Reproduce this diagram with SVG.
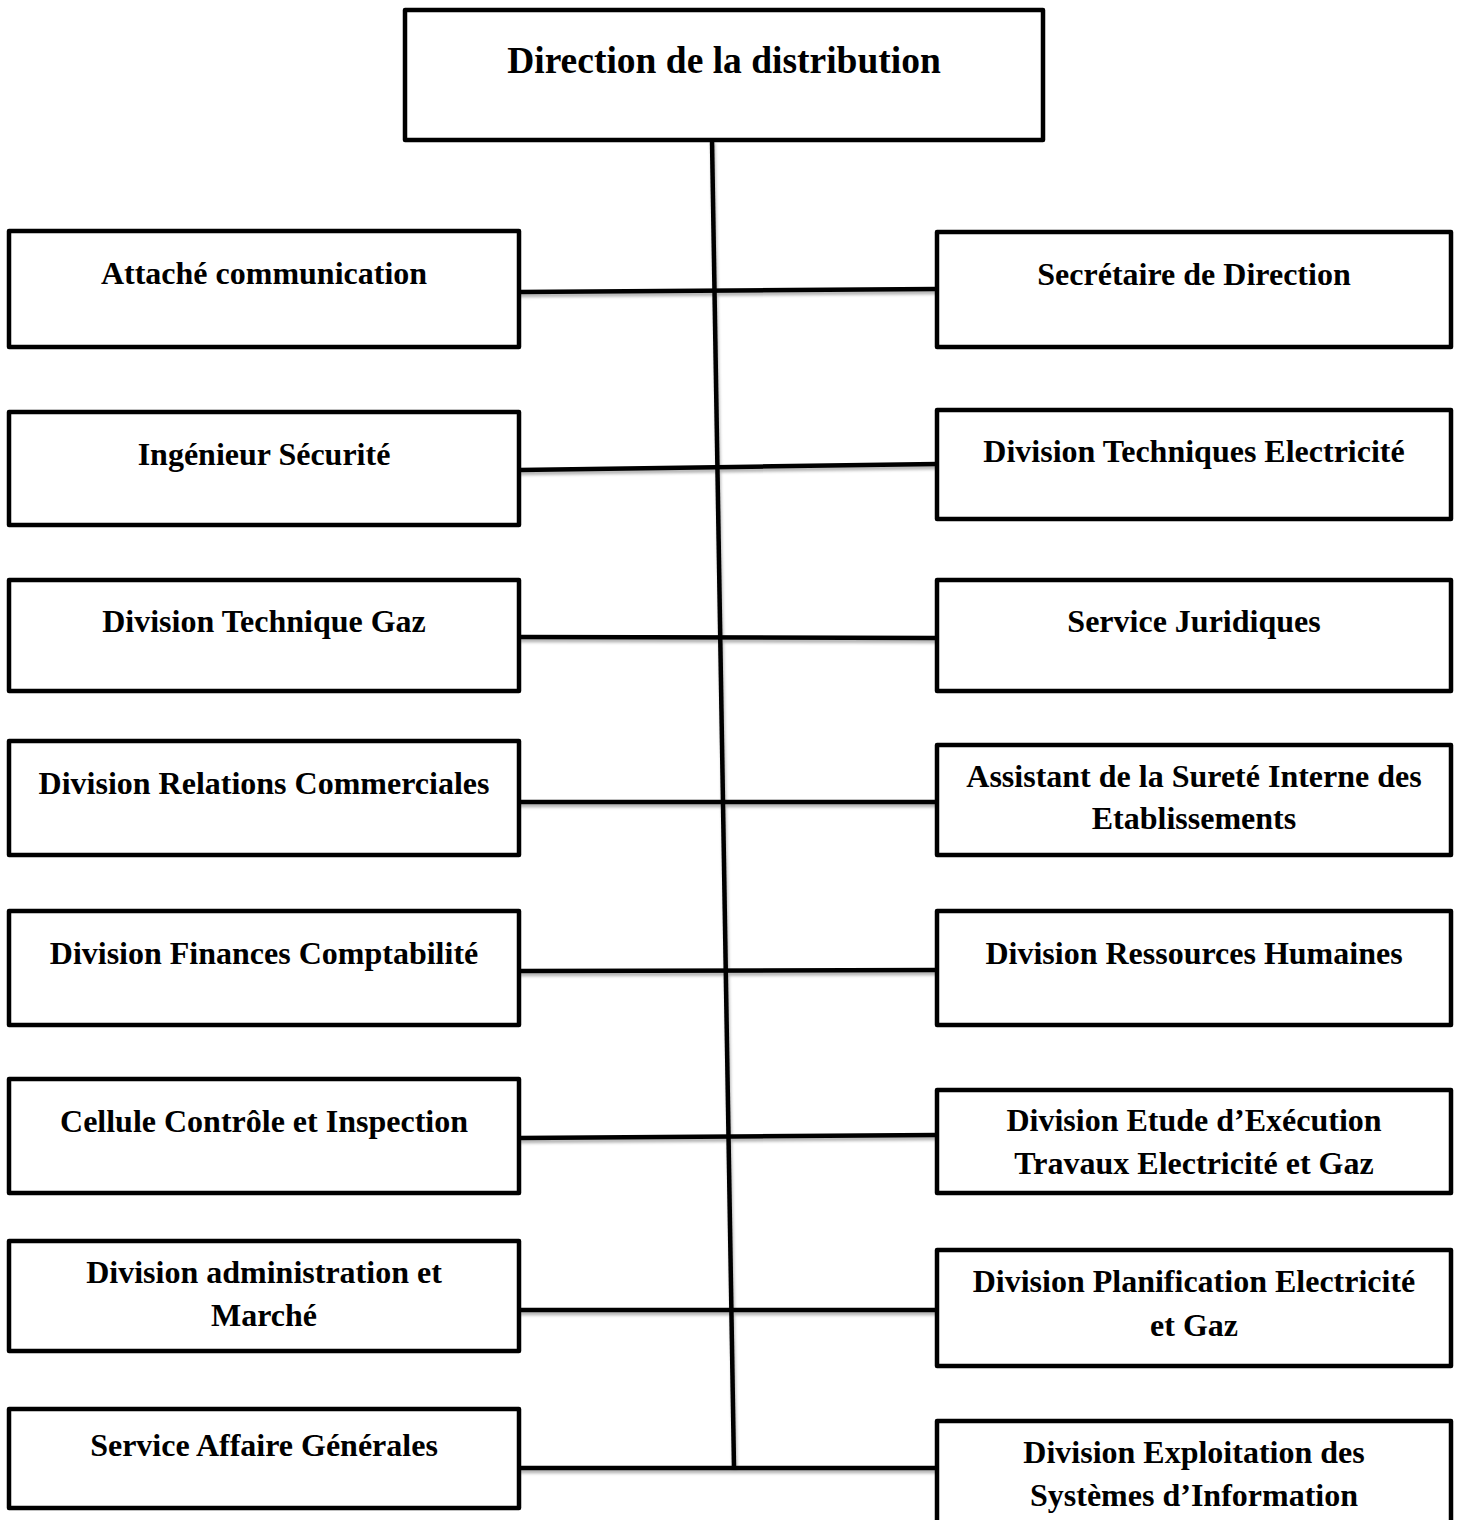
<svg xmlns="http://www.w3.org/2000/svg" width="1459" height="1520" viewBox="0 0 1459 1520">
  <style>
    .box { fill: #ffffff; stroke: #000000; stroke-width: 4.5; stroke-linejoin: round; }
    .lbl { font-family: "Liberation Serif", "Times New Roman", serif; font-weight: bold; font-size: 32px; fill: #000000; text-anchor: middle; }
    .title { font-size: 37.5px; }
    .conn { fill: none; stroke: #000000; stroke-width: 4.5; stroke-linecap: butt; }
  </style>
  <defs>
    <filter id="soft" x="-5%" y="-5%" width="110%" height="120%">
      <feDropShadow dx="1" dy="3" stdDeviation="1.5" flood-color="#000000" flood-opacity="0.3"/>
    </filter>
  </defs>
  <rect width="1459" height="1520" fill="#ffffff"/>

  <!-- connectors: trunk and branches -->
  <g id="connectors" class="conn" filter="url(#soft)">
    <line x1="712" y1="140" x2="734" y2="1468"/>
    <line x1="519" y1="292" x2="937" y2="289"/>
    <line x1="519" y1="470" x2="937" y2="464"/>
    <line x1="519" y1="637" x2="937" y2="638"/>
    <line x1="519" y1="802" x2="937" y2="802"/>
    <line x1="519" y1="971" x2="937" y2="970"/>
    <line x1="519" y1="1138" x2="937" y2="1135"/>
    <line x1="519" y1="1310" x2="937" y2="1310"/>
    <line x1="519" y1="1468" x2="937" y2="1468"/>
  </g>

  <g id="direction">
    <rect class="box" x="405" y="10" width="638" height="130"/>
    <text class="lbl title" x="724" y="73">Direction de la distribution</text>
  </g>

  <!-- left column -->
  <g id="attache-communication">
    <rect class="box" x="9" y="231" width="510" height="116"/>
    <text class="lbl" x="264" y="284">Attaché communication</text>
  </g>
  <g id="ingenieur-securite">
    <rect class="box" x="9" y="412" width="510" height="113"/>
    <text class="lbl" x="264" y="465">Ingénieur Sécurité</text>
  </g>
  <g id="division-technique-gaz">
    <rect class="box" x="9" y="580" width="510" height="111"/>
    <text class="lbl" x="264" y="632">Division Technique Gaz</text>
  </g>
  <g id="division-relations-commerciales">
    <rect class="box" x="9" y="741" width="510" height="114"/>
    <text class="lbl" x="264" y="794">Division Relations Commerciales</text>
  </g>
  <g id="division-finances-comptabilite">
    <rect class="box" x="9" y="911" width="510" height="114"/>
    <text class="lbl" x="264" y="964">Division Finances Comptabilité</text>
  </g>
  <g id="cellule-controle-inspection">
    <rect class="box" x="9" y="1079" width="510" height="114"/>
    <text class="lbl" x="264" y="1132">Cellule Contrôle et Inspection</text>
  </g>
  <g id="division-administration-marche">
    <rect class="box" x="9" y="1241" width="510" height="110"/>
    <text class="lbl" x="264" y="1283">Division administration et</text>
    <text class="lbl" x="264" y="1326">Marché</text>
  </g>
  <g id="service-affaire-generales">
    <rect class="box" x="9" y="1409" width="510" height="99"/>
    <text class="lbl" x="264" y="1456">Service Affaire Générales</text>
  </g>

  <!-- right column -->
  <g id="secretaire-direction">
    <rect class="box" x="937" y="232" width="514" height="115"/>
    <text class="lbl" x="1194" y="285">Secrétaire de Direction</text>
  </g>
  <g id="division-techniques-electricite">
    <rect class="box" x="937" y="410" width="514" height="109"/>
    <text class="lbl" x="1194" y="462">Division Techniques Electricité</text>
  </g>
  <g id="service-juridiques">
    <rect class="box" x="937" y="580" width="514" height="111"/>
    <text class="lbl" x="1194" y="632">Service Juridiques</text>
  </g>
  <g id="assistant-surete">
    <rect class="box" x="937" y="745" width="514" height="110"/>
    <text class="lbl" x="1194" y="787">Assistant de la Sureté Interne des</text>
    <text class="lbl" x="1194" y="829">Etablissements</text>
  </g>
  <g id="division-ressources-humaines">
    <rect class="box" x="937" y="911" width="514" height="114"/>
    <text class="lbl" x="1194" y="964">Division Ressources Humaines</text>
  </g>
  <g id="division-etude-execution">
    <rect class="box" x="937" y="1090" width="514" height="103"/>
    <text class="lbl" x="1194" y="1131">Division Etude d’Exécution</text>
    <text class="lbl" x="1194" y="1174">Travaux Electricité et Gaz</text>
  </g>
  <g id="division-planification">
    <rect class="box" x="937" y="1250" width="514" height="116"/>
    <text class="lbl" x="1194" y="1292">Division Planification Electricité</text>
    <text class="lbl" x="1194" y="1336">et Gaz</text>
  </g>
  <g id="division-exploitation-si">
    <rect class="box" x="937" y="1421" width="514" height="110"/>
    <text class="lbl" x="1194" y="1463">Division Exploitation des</text>
    <text class="lbl" x="1194" y="1506">Systèmes d’Information</text>
  </g>
</svg>
